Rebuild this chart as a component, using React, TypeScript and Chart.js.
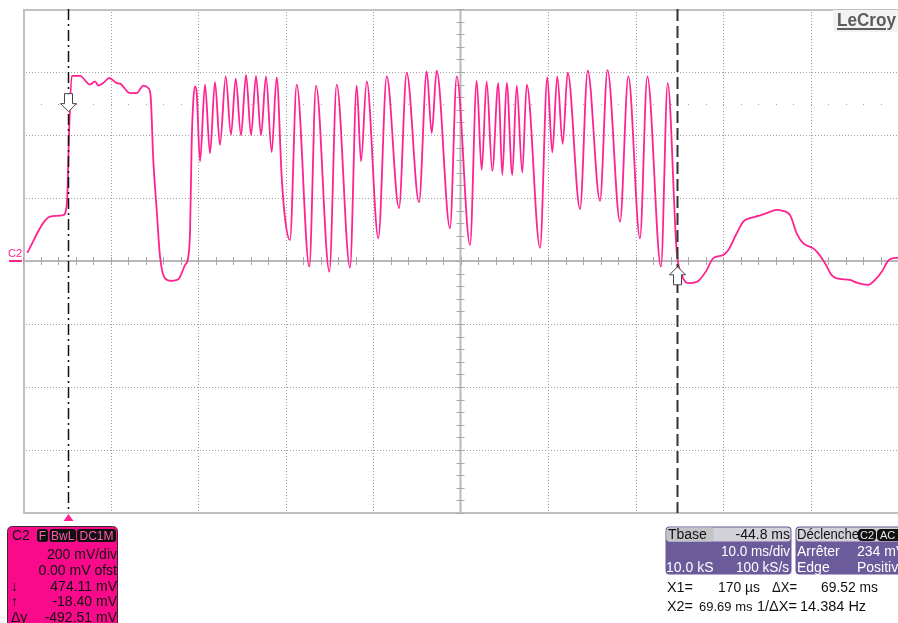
import React, { useEffect, useRef } from "react";
import { Chart, registerables } from "chart.js";

Chart.register(...registerables);

// ---- Data (time in ms, voltage in mV) ----
const timeMs = [
  -4.51, -2.68, -1.91, -0.39, -0.12, 0.06, 0.29, 0.57, 1.51, 2.66,
  3.23, 3.61, 4.18, 4.86, 5.71, 6.09, 7.23, 7.99, 8.75, 9.32,
  9.59, 9.89, 10.28, 10.66, 11.23, 11.99, 12.75, 13.51, 13.89, 14.09,
  14.28, 14.46, 14.66, 14.85, 15.23, 15.8, 16.37, 16.94, 17.51, 18.17,
  18.77, 19.31, 19.91, 20.49, 21.06, 21.63, 22.2, 22.77, 23.42, 23.99,
  24.57, 24.94, 25.51, 26.28, 27.72, 28.49, 30.01, 30.85, 32.37, 33.14,
  33.63, 34.28, 35.61, 36.57, 37.97, 38.85, 40.26, 41.14, 41.71, 42.28,
  43.8, 44.57, 46.09, 46.85, 47.42, 47.99, 48.63, 49.32, 49.78, 50.28,
  50.92, 51.42, 52.06, 52.57, 54.09, 54.92, 55.49, 56.06, 56.68, 57.25,
  58.66, 59.54, 60.94, 61.8, 63.23, 64.18, 65.51, 66.35, 67.91, 68.68,
  69.71, 70.31, 71.0, 71.91, 72.37, 73.14, 73.89, 75.03, 75.61, 76.57,
  77.32, 78.09, 79.03, 79.99, 81.14, 81.71, 82.66, 83.42, 84.18, 85.32,
  85.89, 86.66, 87.42, 87.99, 89.51, 90.28, 91.61, 92.37, 93.14, 93.89,
  94.46, 95.0,
];
const voltsMv = [
  26, 121, 141, 146, 157, 204, 427, 588, 588, 560,
  570, 557, 565, 581, 565, 563, 533, 533, 557, 549,
  522, 321, 162, 14, -55, -63, -58, -13, 14, 93,
  379, 507, 554, 533, 316, 560, 342, 568, 369, 586,
  401, 579, 399, 591, 399, 588, 399, 586, 346, 583,
  264, 137, 67, 560, -18, 557, -34, 560, -21, 557,
  316, 570, 72, 586, 168, 597, 187, 602, 406, 604,
  104, 586, 51, 572, 289, 570, 286, 565, 273, 565,
  273, 557, 281, 560, 42, 583, 344, 586, 372, 598,
  165, 604, 191, 606, 125, 586, 72, 586, -18, 565,
  30, -45, -70, -67, -58, -29, 9, 19, 35, 88,
  125, 136, 143, 152, 162, 160, 146, 88, 56, 40,
  24, -7, -45, -55, -60, -69, -76, -60, -34, 1,
  9, 10,
];

const xTicksMs = [-5, 5, 15, 25, 35, 45, 55, 65, 75, 85, 95];
const yTicksMv = [-800, -600, -400, -200, 0, 200, 400, 600, 800];
const cursorX1Ms = 0.17;
const cursorX2Ms = 69.69;
const cursorY1Mv = 474.11;
const cursorY2Mv = -18.4;
const dotRowMv = 500;

const chLabels = ["F", "BwL", "DC1M"];
const chLines = ["200 mV/div", "0.00 mV ofst", "474.11 mV", "-18.40 mV", "-492.51 mV"];
const chSymbols = ["", "", "\u2193", "\u2191", "\u0394y"];

const TRACE = "#ff2290";
const BOXPINK = "#f80a8a";
const PURPLE = "#6b5b9b";
const FONT = "'Liberation Sans', Arial, sans-serif";

function rr(ctx: CanvasRenderingContext2D, x: number, y: number, w: number, h: number, r: number) {
  ctx.beginPath();
  ctx.moveTo(x + r, y);
  ctx.lineTo(x + w - r, y);
  ctx.quadraticCurveTo(x + w, y, x + w, y + r);
  ctx.lineTo(x + w, y + h - r);
  ctx.quadraticCurveTo(x + w, y + h, x + w - r, y + h);
  ctx.lineTo(x + r, y + h);
  ctx.quadraticCurveTo(x, y + h, x, y + h - r);
  ctx.lineTo(x, y + r);
  ctx.quadraticCurveTo(x, y, x + r, y);
  ctx.closePath();
}

function arrow(ctx: CanvasRenderingContext2D, x: number, tip: number, down: boolean) {
  const s = down ? -1 : 1;
  ctx.beginPath();
  ctx.moveTo(x, tip);
  ctx.lineTo(x + 8, tip + s * 8);
  ctx.lineTo(x + 4, tip + s * 8);
  ctx.lineTo(x + 4, tip + s * 18);
  ctx.lineTo(x - 4, tip + s * 18);
  ctx.lineTo(x - 4, tip + s * 8);
  ctx.lineTo(x - 8, tip + s * 8);
  ctx.closePath();
  ctx.fillStyle = "#ffffff";
  ctx.fill();
  ctx.strokeStyle = "#444";
  ctx.lineWidth = 1;
  ctx.setLineDash([]);
  ctx.stroke();
}

const scopePlugin = {
  id: "scope",
  beforeDraw(chart: any) {
    const ctx = chart.ctx as CanvasRenderingContext2D;
    ctx.save();
    ctx.fillStyle = "#ffffff";
    ctx.fillRect(0, 0, chart.width, chart.height);
    ctx.restore();
  },
  beforeDatasetsDraw(chart: any) {
    const ctx = chart.ctx as CanvasRenderingContext2D;
    const { left, right, top, bottom } = chart.chartArea;
    const xs = chart.scales.x;
    const ys = chart.scales.y;
    ctx.save();
    ctx.strokeStyle = "#a0a0a0";
    ctx.lineWidth = 1;
    ctx.setLineDash([1, 2]);
    xTicksMs.forEach((t, i) => {
      if (i === 0 || i === 5) return;
      const px = Math.round(xs.getPixelForValue(t)) + 0.5;
      ctx.beginPath();
      ctx.moveTo(px, top);
      ctx.lineTo(px, bottom);
      ctx.stroke();
    });
    yTicksMv.forEach((v, i) => {
      if (i === 0 || i === 4 || i === 8) return;
      const py = Math.round(ys.getPixelForValue(v)) + 0.5;
      ctx.beginPath();
      ctx.moveTo(left, py);
      ctx.lineTo(right, py);
      ctx.stroke();
    });
    ctx.setLineDash([]);
    ctx.fillStyle = "#a8a8a8";
    const dy = Math.round(ys.getPixelForValue(dotRowMv));
    for (let t = -3; t <= 95; t += 2) {
      const px = Math.round(xs.getPixelForValue(t));
      ctx.fillRect(px, dy, 1, 1);
    }
    ctx.strokeStyle = "#c0c0c0";
    ctx.lineWidth = 2;
    const x0 = xs.getPixelForValue(xTicksMs[0]);
    const xc = xs.getPixelForValue(xTicksMs[5]);
    const yTop = ys.getPixelForValue(yTicksMv[8]);
    const yBot = ys.getPixelForValue(yTicksMv[0]);
    const yc = ys.getPixelForValue(yTicksMv[4]);
    ctx.beginPath();
    ctx.moveTo(x0 + 1, top);
    ctx.lineTo(x0 + 1, bottom);
    ctx.moveTo(left, yTop + 1);
    ctx.lineTo(right, yTop + 1);
    ctx.moveTo(left, yBot);
    ctx.lineTo(right, yBot);
    ctx.stroke();
    ctx.strokeStyle = "#b8b8b8";
    ctx.beginPath();
    ctx.moveTo(xc, top);
    ctx.lineTo(xc, bottom);
    ctx.moveTo(left, yc);
    ctx.lineTo(right, yc);
    ctx.stroke();
    ctx.strokeStyle = "#a8a8a8";
    ctx.lineWidth = 1;
    ctx.beginPath();
    for (let t = -5; t <= 95; t += 2) {
      const px = Math.round(xs.getPixelForValue(t)) + 0.5;
      ctx.moveTo(px, yc - 4);
      ctx.lineTo(px, yc + 4);
    }
    for (let v = -800; v <= 800; v += 40) {
      const py = Math.round(ys.getPixelForValue(v)) + 0.5;
      ctx.moveTo(xc - 4, py);
      ctx.lineTo(xc + 4, py);
    }
    ctx.stroke();
    ctx.restore();
  },
  afterDatasetsDraw(chart: any) {
    const ctx = chart.ctx as CanvasRenderingContext2D;
    const { top, bottom } = chart.chartArea;
    const xs = chart.scales.x;
    const ys = chart.scales.y;
    ctx.save();
    const c1 = Math.round(xs.getPixelForValue(cursorX1Ms)) + 0.5;
    const c2 = Math.round(xs.getPixelForValue(cursorX2Ms)) + 0.5;
    ctx.strokeStyle = "#111";
    ctx.lineWidth = 1.5;
    ctx.setLineDash([11, 4, 2, 4]);
    ctx.beginPath();
    ctx.moveTo(c1, top);
    ctx.lineTo(c1, bottom);
    ctx.stroke();
    ctx.strokeStyle = "#333";
    ctx.lineWidth = 2;
    ctx.setLineDash([12, 5]);
    ctx.beginPath();
    ctx.moveTo(c2, top);
    ctx.lineTo(c2, bottom);
    ctx.stroke();
    arrow(ctx, c1, ys.getPixelForValue(cursorY1Mv), true);
    arrow(ctx, c2, ys.getPixelForValue(cursorY2Mv), false);

    ctx.setLineDash([]);
    ctx.fillStyle = TRACE;
    ctx.beginPath();
    ctx.moveTo(c1, bottom + 1);
    ctx.lineTo(c1 + 5, bottom + 8);
    ctx.lineTo(c1 - 5, bottom + 8);
    ctx.closePath();
    ctx.fill();

    const zy = ys.getPixelForValue(0);
    ctx.fillStyle = TRACE;
    ctx.fillRect(9, zy - 1, 13, 2);
    ctx.font = `11px ${FONT}`;
    ctx.textBaseline = "alphabetic";
    ctx.textAlign = "left";
    ctx.fillText("C2", 8, zy - 4);

    ctx.fillStyle = "#f3f3f3";
    ctx.fillRect(833, 10, 65, 22);
    ctx.fillStyle = "#5c5c5c";
    ctx.font = `bold 18px ${FONT}`;
    ctx.fillText("LeCroy", 837, 26, 59);
    ctx.fillRect(837, 28, 49, 2);

    // Channel box
    ctx.fillStyle = BOXPINK;
    rr(ctx, 7.5, 526.5, 110, 110, 5);
    ctx.fill();
    ctx.strokeStyle = "#3a2a30";
    ctx.lineWidth = 1;
    ctx.stroke();
    ctx.fillStyle = "#111";
    ctx.font = `14px ${FONT}`;
    ctx.fillText("C2", 12, 540);
    const lblX = [37, 49.5, 77];
    const lblW = [11, 26.5, 39];
    chLabels.forEach((l, i) => {
      ctx.fillStyle = "#111";
      rr(ctx, lblX[i], 529, lblW[i], 13, 3);
      ctx.fill();
      ctx.fillStyle = "#ff5cb0";
      ctx.font = `12px ${FONT}`;
      ctx.textAlign = "center";
      ctx.fillText(l, lblX[i] + lblW[i] / 2, 540, lblW[i] - 2);
    });
    const bl = [559, 575, 590.5, 606, 621.5];
    ctx.font = `14px ${FONT}`;
    ctx.fillStyle = "#111";
    chLines.forEach((s, i) => {
      ctx.textAlign = "right";
      ctx.fillText(s, 117, bl[i]);
      if (chSymbols[i]) {
        ctx.textAlign = "left";
        ctx.fillText(chSymbols[i], 11, bl[i]);
      }
    });

    // Tbase box
    ctx.textAlign = "left";
    ctx.fillStyle = PURPLE;
    rr(ctx, 665.5, 526.5, 126, 48, 4);
    ctx.fill();
    ctx.fillStyle = "#d3d1da";
    rr(ctx, 666.5, 527.5, 124, 14, 3);
    ctx.fill();
    ctx.fillStyle = "#c4c4c8";
    rr(ctx, 666.5, 527.5, 47, 14, 3);
    ctx.fill();
    ctx.font = `14px ${FONT}`;
    ctx.fillStyle = "#111";
    ctx.fillText("Tbase", 668, 539);
    ctx.textAlign = "right";
    ctx.fillText("-44.8 ms", 790, 539, 62);
    ctx.fillStyle = "#ffffff";
    ctx.fillText("10.0 ms/div", 790, 556, 69);
    ctx.fillText("100 kS/s", 789, 572, 53);
    ctx.textAlign = "left";
    ctx.fillText("10.0 kS", 666, 572);

    // Trigger box
    ctx.fillStyle = PURPLE;
    rr(ctx, 795.5, 526.5, 120, 48, 4);
    ctx.fill();
    ctx.fillStyle = "#d3d1da";
    rr(ctx, 796.5, 527.5, 118, 14, 3);
    ctx.fill();
    ctx.fillStyle = "#111";
    ctx.fillText("D\u00e9clenche", 797, 539, 62);
    rr(ctx, 858, 529, 18, 12, 4);
    ctx.fill();
    rr(ctx, 877, 529, 24, 12, 4);
    ctx.fill();
    ctx.fillStyle = "#e8e8e8";
    ctx.font = `11px ${FONT}`;
    ctx.fillText("C2", 860, 539);
    ctx.fillText("AC", 880, 539);
    ctx.font = `14px ${FONT}`;
    ctx.fillStyle = "#ffffff";
    ctx.fillText("Arr\u00eater", 797, 556);
    ctx.fillText("234 mV", 857, 556);
    ctx.fillText("Edge", 797, 572);
    ctx.fillText("Positive", 857, 572);

    // cursor readouts
    ctx.fillStyle = "#111";
    ctx.font = `14.5px ${FONT}`;
    ctx.fillText("X1=", 667, 592, 26);
    ctx.fillText("170 \u00b5s", 718, 592, 42);
    ctx.fillText("\u0394X=", 772, 592, 25);
    ctx.fillText("69.52 ms", 821, 592, 57);
    ctx.fillText("X2=", 667, 611, 26);
    ctx.fillText("1/\u0394X=", 757, 611, 40);
    ctx.fillText("14.384 Hz", 800, 611, 73);
    ctx.font = `13px ${FONT}`;
    ctx.fillText("69.69 ms", 699, 611);
    ctx.restore();
  },
};

export default function App() {
  const ref = useRef<HTMLCanvasElement | null>(null);
  useEffect(() => {
    document.body.style.margin = "0";
    const canvas = ref.current;
    if (!canvas) return;
    const points = timeMs.map((t, i) => ({ x: t, y: voltsMv[i] }));
    const chart = new Chart(canvas, {
      type: "line",
      data: {
        datasets: [
          {
            data: points,
            borderColor: TRACE,
            borderWidth: 1.8,
            pointRadius: 0,
            fill: false,
            cubicInterpolationMode: "monotone",
          },
        ],
      },
      options: {
        animation: false,
        responsive: false,
        devicePixelRatio: 1,
        layout: { padding: { left: 23, top: 9, right: 0, bottom: 110 } },
        scales: {
          x: { type: "linear", min: xTicksMs[0], max: xTicksMs[xTicksMs.length - 1], display: false },
          y: { type: "linear", min: yTicksMv[0], max: yTicksMv[yTicksMv.length - 1], display: false },
        },
        plugins: { legend: { display: false }, tooltip: { enabled: false } },
      },
      plugins: [scopePlugin],
    } as any);
    return () => chart.destroy();
  }, []);
  return (
    <div style={{ width: 898, height: 623 }}>
      <canvas ref={ref} width={898} height={623} style={{ display: "block", width: 898, height: 623 }} />
    </div>
  );
}
